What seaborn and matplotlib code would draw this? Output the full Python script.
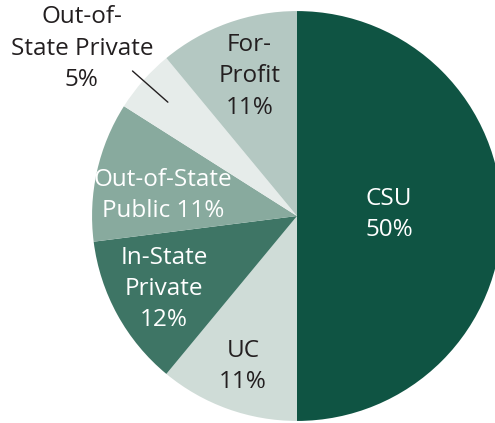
"""
Pie chart: where students go (CSU / UC / private / out-of-state / for-profit)
"""
import matplotlib
matplotlib.use('Agg')
import matplotlib.pyplot as plt
import numpy as np
import seaborn as sns

# data
categories = ['CSU', 'UC', 'In-State\nPrivate', 'Out-of-State\nPublic 11%',
              'Out-of-\nState Private', 'For-\nProfit']
shares = [50, 11, 12, 11, 5, 11]
colors = ['#0f5443', '#cfdcd7', '#3e7565', '#88aa9e', '#e6ecea', '#b4c8c2']
text_colors = ['white', '#231f20', 'white', 'white', '#231f20', '#231f20']
# how far from the centre each label sits (fraction of radius)
label_radius = [0.45, 0.78, 0.74, 0.66, 1.33, 0.72]
label_angle_shift = [1, 0, 0, 4, 3.5, -1]

sns.set_theme(style='white')
plt.rcParams['font.family'] = ['Open Sans', 'DejaVu Sans']

fig = plt.figure(figsize=(4.95, 4.23), dpi=100)
ax = fig.add_axes([0, 0, 1, 1])

wedges, _ = ax.pie(shares, colors=colors, startangle=90, counterclock=False,
                   radius=1.0, wedgeprops=dict(linewidth=0))

for i, w in enumerate(wedges):
    mid = np.deg2rad((w.theta1 + w.theta2) / 2 + label_angle_shift[i])
    r = label_radius[i]
    label = categories[i]
    if '%' not in label:
        label = f'{label}\n{shares[i]}%'
    ax.text(r * np.cos(mid), r * np.sin(mid), label, ha='center', va='center',
            color=text_colors[i], fontsize=17.5, linespacing=1.4)

# leader line for the small slice
w = wedges[4]
mid = np.deg2rad((w.theta1 + w.theta2) / 2)
ax.plot([0.84 * np.cos(mid), 1.07 * np.cos(mid)],
        [0.84 * np.sin(mid), 1.07 * np.sin(mid)], color='#231f20', lw=1)

ax.set_xlim(-1.449, 0.966)
ax.set_ylim(-1.010, 1.054)
ax.set_aspect('equal')
ax.axis('off')

fig.savefig('out.png', dpi=100)
